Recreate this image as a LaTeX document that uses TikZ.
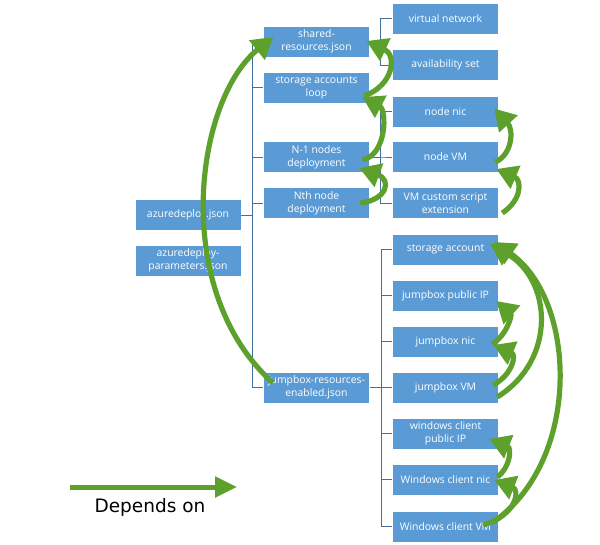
\documentclass[tikz,border=0pt]{standalone}
\usepackage{fontspec}
\setmainfont{Open Sans}
\newfontfamily\legfont{DejaVu Sans}
\usetikzlibrary{arrows.meta,calc}
\definecolor{boxblue}{RGB}{91,155,213}
\definecolor{treeblue}{RGB}{65,113,156}
\definecolor{depgreen}{RGB}{94,160,44}
\begin{document}
\begin{tikzpicture}[x=1pt,y=-1pt,
  box/.style={fill=boxblue,draw=white,line width=0.5pt,minimum width=106pt,minimum height=31pt,inner sep=0pt,
    align=center,text=white,font=\fontsize{10.4}{13.3}\selectfont},
  tree/.style={draw=treeblue,line width=0.8pt},
  dep/.style={draw=depgreen,line width=5.2pt,-{Triangle[length=21pt,width=24pt]}},
]
\useasboundingbox (0,0) rectangle (600,545);
% level 0
\node[box] (az)  at (188,215)   {azuredeploy.json};
\node[box] (azp) at (188,260.5) {azuredeploy-\\parameters.json};
% level 1
\node[box] (sr)  at (316.5,41.5)  {shared-\\resources.json};
\node[box] (sal) at (316.5,87.5)  {storage accounts\\loop};
\node[box] (n1)  at (316.5,157)   {N-1 nodes\\deployment};
\node[box] (nth) at (316.5,203)   {Nth node\\deployment};
\node[box] (jre) at (316.5,387.5) {jumpbox-resources-\\enabled.json};
% level 2 top
\node[box] (vn)    at (445.5,18.5)  {virtual network};
\node[box] (as)    at (445.5,65)    {availability set};
\node[box] (nnic)  at (445.5,111.5) {node nic};
\node[box] (nvm)   at (445.5,157)   {node VM};
\node[box] (vmcse) at (445.5,203)   {VM custom script\\extension};
% level 2 bottom
\node[box] (sa)    at (445.5,249.5) {storage account};
\node[box] (jpip)  at (445.5,295.5) {jumpbox public IP};
\node[box] (jnic)  at (445.5,341.5) {jumpbox nic};
\node[box] (jvm)   at (445.5,387.5) {jumpbox VM};
\node[box] (wcpip) at (445.5,433.5) {windows client\\public IP};
\node[box] (wcnic) at (445.5,479.5) {Windows client nic};
\node[box] (wcvm)  at (445.5,526.5) {Windows client VM};
% tree connectors
\foreach \c in {sr,sal,n1,nth,jre}
  \draw[tree] (az.east) -| ([xshift=-11pt]\c.west) -- (\c.west);
\foreach \c in {vn,as}
  \draw[tree] (sr.east) -| ([xshift=-12pt]\c.west) -- (\c.west);
\foreach \c in {nnic,nvm,vmcse}
  \draw[tree] (n1.east) -| ([xshift=-12pt]\c.west) -- (\c.west);
\foreach \c in {sa,jpip,jnic,jvm,wcpip,wcnic,wcvm}
  \draw[tree] (jre.east) -| ([xshift=-11pt]\c.west) -- (\c.west);
% dependency arrows
\draw[dep] ($(jre.north west)+(9.5,11)$) .. controls (170,290) and (195,100) .. ($(sr.west)+(10,-4.5)$);
\draw[dep] ($(sal.east)+(-5.5,8.5)$) .. controls (394,85) and (397,55) .. ($(sr.east)+(-3.5,-0.5)$);
\draw[dep] ($(n1.east)+(-7.5,3)$) .. controls (387,155) and (387,110) .. ($(sal.east)+(-7.5,9.5)$);
\draw[dep] ($(nth.east)+(-9.5,0)$) .. controls (387,200) and (392,180) .. ($(n1.east)+(-10.5,11)$);
\draw[dep] ($(nvm.east)+(-3.5,5)$) .. controls (512,155) and (514,130) .. ($(nnic.east)+(-4.5,-3)$);
\draw[dep] ($(vmcse.east)+(3.5,10)$) .. controls (522,200) and (522,180) .. ($(nvm.east)+(-2.5,12)$);
\draw[dep] ($(jnic.east)+(-6.5,2.5)$) .. controls (507,335) and (512,315) .. ($(jpip.east)+(-2.5,5.5)$);
\draw[dep] ($(jvm.east)+(-5.5,-2.5)$) .. controls (512,375) and (517,355) .. ($(jnic.east)+(-5.5,3.5)$);
\draw[dep] ($(jvm.east)+(-1.5,9.5)$) .. controls (557,360) and (552,280) .. ($(sa.east)+(-8.5,-5.5)$);
\draw[dep] ($(wcnic.east)+(-1.5,-2.5)$) .. controls (510,468) and (512,448) .. ($(wcpip.east)+(-9.5,5.5)$);
\draw[dep] ($(wcvm.east)+(-15.5,-1.5)$) .. controls (517,515) and (520,490) .. ($(wcnic.east)+(-4.5,0.5)$);
\draw[dep] ($(wcvm.east)+(-5.5,-4.5)$) .. controls (582,460) and (577,300) .. ($(sa.east)+(-4.5,-7.5)$);
% legend
\coordinate (lgA) at (70,487);
\coordinate (lgB) at (237,487);
\draw[draw=depgreen,line width=5pt,-{Triangle[length=22pt,width=20pt]}] (lgA) -- (lgB);
\node[font=\legfont\fontsize{18.5}{22}\selectfont,text=black,inner sep=0pt] (lgT) at (150,507) {Depends on};
\end{tikzpicture}
\end{document}
